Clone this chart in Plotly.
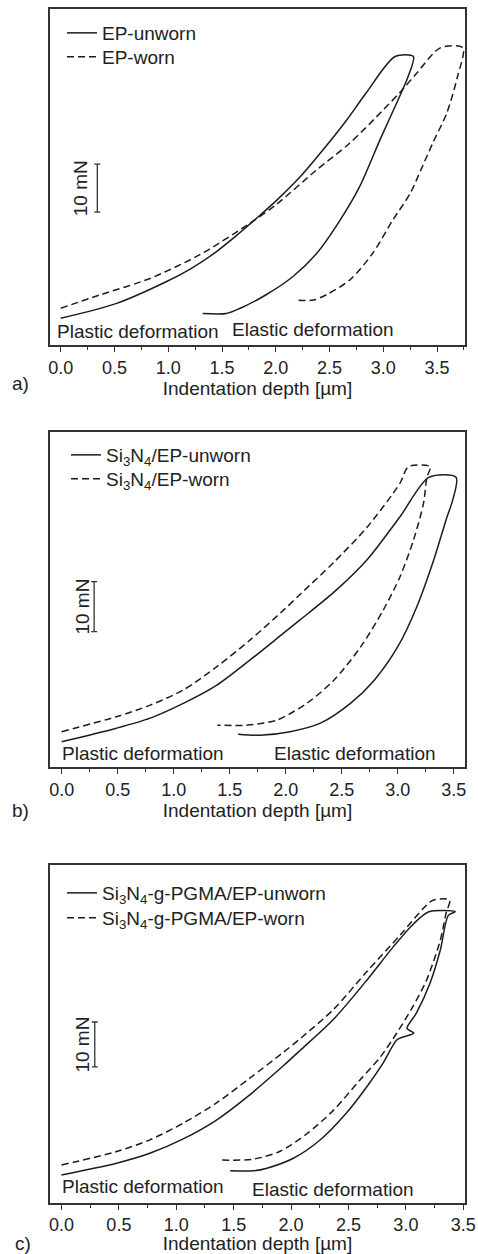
import plotly.graph_objects as go

# ---------------- data (indentation depth in µm, load in mN, relative) ----------------
a_unworn_x = [0, 0.52, 0.98, 1.2, 1.42, 1.6, 1.84, 2.0, 2.22, 2.44, 2.66, 2.84, 3.11, 3.28, 3.23, 3.18, 2.97, 2.78, 2.60, 2.38, 2.16, 1.91, 1.67, 1.54, 1.32]
a_unworn_y = [0, 3.1, 7.6, 10.2, 13.4, 16.6, 21.2, 24.4, 29.3, 35.1, 41.3, 46.9, 54.5, 54.5, 50.3, 47.6, 37.2, 27.4, 20.5, 13.5, 8.7, 4.9, 2.1, 1.0, 1.0]
a_worn_x = [0, 0.37, 0.83, 1.29, 1.76, 2.0, 2.38, 2.69, 3.0, 3.15, 3.31, 3.53, 3.74, 3.69, 3.59, 3.46, 3.35, 3.25, 3.09, 2.90, 2.69, 2.47, 2.35, 2.19]
a_worn_y = [2.1, 4.9, 8.3, 13.2, 19.8, 23.6, 30.9, 36.5, 43.4, 46.9, 51.0, 56.3, 56.3, 50.3, 42.7, 36.5, 30.9, 26.0, 20.5, 13.5, 8.0, 4.9, 3.8, 3.8]

b_unworn_x = [0, 0.49, 0.79, 1.09, 1.385, 1.68, 1.98, 2.13, 2.43, 2.73, 3.02, 3.28, 3.52, 3.49, 3.44, 3.32, 3.17, 3.0, 2.79, 2.58, 2.31, 2.04, 1.77, 1.575]
b_unworn_y = [0, 2.7, 4.7, 7.7, 11.3, 16.3, 21.7, 24.4, 29.9, 36.5, 45.0, 52.9, 52.9, 48.3, 45.0, 36.3, 27.0, 19.0, 12.3, 7.7, 3.7, 2.0, 1.3, 1.5]
b_worn_x = [0, 0.49, 0.79, 1.09, 1.385, 1.68, 1.98, 2.13, 2.43, 2.73, 3.02, 3.095, 3.29, 3.26, 3.23, 3.14, 3.02, 2.87, 2.67, 2.43, 2.19, 1.92, 1.65, 1.39]
b_worn_y = [2.0, 5.0, 7.3, 10.4, 15.0, 20.3, 26.3, 29.5, 35.9, 43.0, 51.7, 55.0, 55.0, 52.9, 47.7, 40.3, 33.0, 26.3, 19.0, 12.3, 7.7, 4.3, 3.3, 3.3]

c_unworn_x = [0, 0.48, 0.77, 1.06, 1.35, 1.64, 1.93, 2.08, 2.37, 2.66, 2.89, 3.07, 3.20, 3.43, 3.37, 3.30, 3.21, 3.09, 3.01, 3.07, 2.97, 2.92, 2.80, 2.66, 2.48, 2.25, 2.02, 1.79, 1.67, 1.47]
c_unworn_y = [0.4, 3.0, 5.2, 8.4, 12.6, 18.2, 24.6, 28.1, 35.0, 43.7, 51.1, 56.3, 58.9, 58.9, 58.1, 50.4, 43.0, 36.3, 33.0, 31.9, 31.0, 30.4, 25.2, 20.0, 14.1, 8.1, 4.1, 1.9, 1.3, 1.3]
c_worn_x = [0, 0.48, 0.77, 1.06, 1.35, 1.64, 1.93, 2.08, 2.37, 2.66, 2.95, 3.15, 3.24, 3.38, 3.35, 3.30, 3.18, 3.06, 2.92, 2.78, 2.60, 2.37, 2.14, 1.90, 1.67, 1.40]
c_worn_y = [2.6, 5.6, 8.2, 11.9, 16.4, 21.9, 27.6, 30.7, 37.2, 45.6, 53.7, 59.6, 61.5, 61.5, 58.6, 52.6, 43.7, 37.8, 31.9, 26.7, 21.5, 14.8, 9.6, 5.6, 3.9, 3.7]

names = [
    ("EP-unworn", "EP-worn"),
    ("Si<sub>3</sub>N<sub>4</sub>/EP-unworn", "Si<sub>3</sub>N<sub>4</sub>/EP-worn"),
    ("Si<sub>3</sub>N<sub>4</sub>-g-PGMA/EP-unworn", "Si<sub>3</sub>N<sub>4</sub>-g-PGMA/EP-worn"),
]
panel_tags = ["a)", "b)", "c)"]
x_tick_vals = [0.0, 0.5, 1.0, 1.5, 2.0, 2.5, 3.0, 3.5]
x_tick_text = ["0.0", "0.5", "1.0", "1.5", "2.0", "2.5", "3.0", "3.5"]
scale_bar_mN = 10

# ---------------- layout geometry ----------------
W, H = 478, 1254
FONT = "Liberation Sans, Arial, sans-serif"
INK = "#1c1c1c"
TXT = "#222222"
FRAME = "#333333"
FS = 19

panels = [
    dict(x=(a_unworn_x, a_worn_x), y=(a_unworn_y, a_worn_y), top=9, bot=345,
         xr=[-0.1, 3.76], yr=[-5.56, 64.4], bar=(0.34, 27.1), bartext=(0.18, 27.1),
         plastic=(-0.053, -2.85), elastic=(1.57, -2.4), leg=(62, 14, 38), tag=(20, 383)),
    dict(x=(b_unworn_x, b_worn_x), y=(b_unworn_y, b_worn_y), top=431.7, bot=767.3,
         xr=[-0.104, 3.60], yr=[-5.13, 62.0], bar=(0.29, 27.0), bartext=(0.19, 27.0),
         plastic=(-0.015, -2.3), elastic=(1.88, -2.3), leg=(66, 436, 460), tag=(20, 810)),
    dict(x=(c_unworn_x, c_worn_x), y=(c_unworn_y, c_worn_y), top=865, bot=1202.7,
         xr=[-0.1, 3.515], yr=[-5.78, 69.3], bar=(0.29, 29.4), bartext=(0.18, 29.4),
         plastic=(-0.017, -2.2), elastic=(1.64, -2.8), leg=(62, 874, 899), tag=(23, 1243)),
]

fig = go.Figure()
annotations = []
layout = {}
for i, p in enumerate(panels):
    k = "" if i == 0 else str(i + 1)
    xa, ya = "x" + k, "y" + k
    for j, dash in enumerate(["solid", "7px,4px"]):
        leg_id = "legend" + ("" if (i == 0 and j == 0) else str(2 * i + j + 1))
        fig.add_trace(go.Scatter(
            x=p["x"][j], y=p["y"][j], mode="lines", name=names[i][j],
            line=dict(color=INK, width=1.5, dash=dash, shape="spline", smoothing=0.8),
            xaxis=xa, yaxis=ya, legend=leg_id))
        layout[leg_id] = dict(
            x=p["leg"][0] / W, y=1 - p["leg"][1 + j] / H, xanchor="left", yanchor="top",
            bgcolor="rgba(0,0,0,0)", borderwidth=0, itemwidth=30,
            font=dict(family=FONT, size=FS, color=TXT))
    # 10 mN scale bar
    fig.add_trace(go.Scatter(
        x=[p["bar"][0]], y=[p["bar"][1]], mode="markers",
        marker=dict(size=1, color="rgba(0,0,0,0)"),
        error_y=dict(type="constant", value=scale_bar_mN / 2, width=3, thickness=1.3, color=FRAME),
        showlegend=False, hoverinfo="skip", xaxis=xa, yaxis=ya))
    dom_y = [1 - p["bot"] / H, 1 - p["top"] / H]
    layout["xaxis" + k] = dict(
        domain=[50 / W, 465 / W], range=p["xr"], anchor=ya,
        showline=True, linecolor=FRAME, linewidth=1.8, mirror=True,
        ticks="outside", ticklen=5, tickwidth=1.2, tickcolor=FRAME,
        tickvals=x_tick_vals, ticktext=x_tick_text, ticklabelstandoff=0,
        minor=dict(dtick=0.25, tick0=0, ticks="outside", ticklen=3, tickwidth=1.2, tickcolor=FRAME),
        showgrid=False, zeroline=False,
        tickfont=dict(family=FONT, size=18, color=TXT),
        title=dict(text="Indentation depth [µm]", standoff=5,
                   font=dict(family=FONT, size=FS, color=TXT)),
        automargin=False, fixedrange=True)
    layout["yaxis" + k] = dict(
        domain=dom_y, range=p["yr"], anchor=xa,
        showline=True, linecolor=FRAME, linewidth=1.8, mirror=True,
        showticklabels=False, ticks="", showgrid=False, zeroline=False,
        automargin=False, fixedrange=True)
    annotations += [
        dict(x=p["bartext"][0], y=p["bartext"][1], xref=xa, yref=ya, text="10 mN",
             textangle=-90, showarrow=False, font=dict(family=FONT, size=FS, color=TXT)),
        dict(x=p["plastic"][0], y=p["plastic"][1], xref=xa, yref=ya, text="Plastic deformation",
             xanchor="left", showarrow=False, font=dict(family=FONT, size=FS, color=TXT)),
        dict(x=p["elastic"][0], y=p["elastic"][1], xref=xa, yref=ya, text="Elastic deformation",
             xanchor="left", showarrow=False, font=dict(family=FONT, size=FS, color=TXT)),
        dict(x=p["tag"][0] / W, y=1 - p["tag"][1] / H, xref="paper", yref="paper", text=panel_tags[i],
             xanchor="center", yanchor="middle", showarrow=False,
             font=dict(family=FONT, size=FS, color=TXT)),
    ]

fig.update_layout(
    width=W, height=H, margin=dict(l=0, r=0, t=0, b=0),
    paper_bgcolor="white", plot_bgcolor="white",
    annotations=annotations, **layout)

fig.write_html("out.html")
